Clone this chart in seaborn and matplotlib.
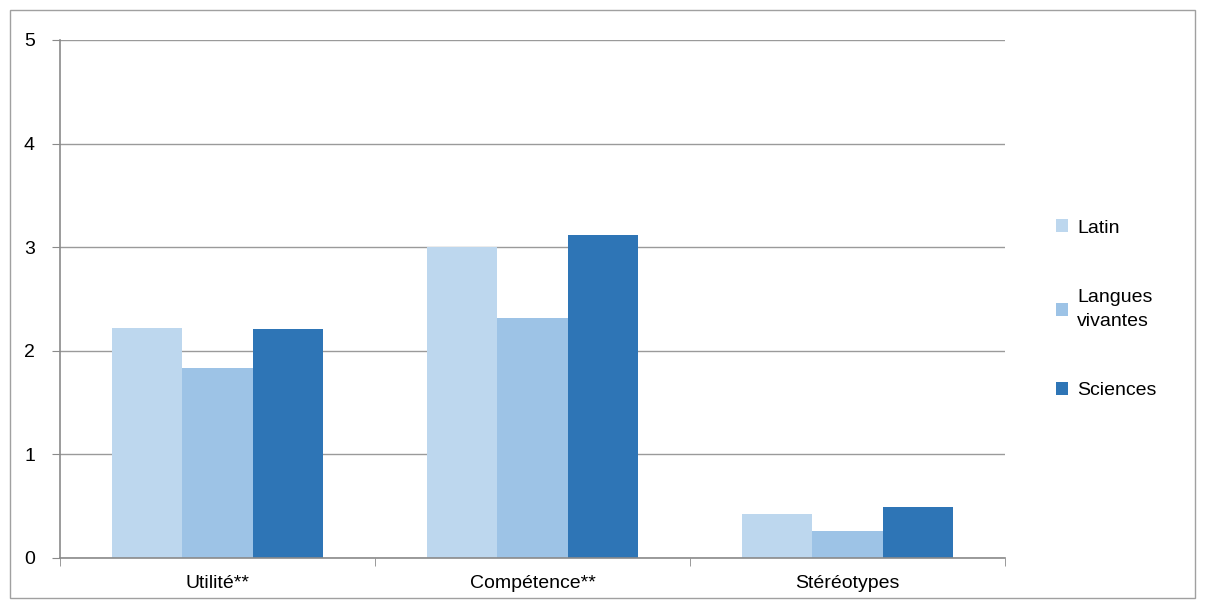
import numpy as np
import pandas as pd
import matplotlib
matplotlib.use("Agg")
import matplotlib.pyplot as plt
from matplotlib.patches import Rectangle
import seaborn as sns

categories = ["Utilité**", "Compétence**", "Stéréotypes"]
series = ["Latin", "Langues\nvivantes", "Sciences"]
latin = [2.22, 3.00, 0.42]
langues = [1.83, 2.32, 0.26]
sciences = [2.21, 3.12, 0.49]
colors = ["#BDD7EE", "#9DC3E6", "#2E75B6"]

df = pd.DataFrame({
    "cat": categories * 3,
    "serie": [series[0]] * 3 + [series[1]] * 3 + [series[2]] * 3,
    "val": latin + langues + sciences,
})

sns.set_style("white")
plt.rcParams["font.family"] = ["Liberation Sans", "DejaVu Sans"]
plt.rcParams["text.color"] = "black"
plt.rcParams["xtick.color"] = "black"
plt.rcParams["ytick.color"] = "black"

fig = plt.figure(figsize=(12.05, 6.08), dpi=100)
ax = fig.add_axes([60 / 1205, 1 - 558 / 608, 945 / 1205, 518 / 608])

sns.barplot(data=df, x="cat", y="val", hue="serie", order=categories,
            hue_order=series, palette=colors, width=0.667, saturation=1,
            edgecolor="none", linewidth=0, ax=ax)

ax.set_xlim(-0.5, 2.5)
ax.set_ylim(0, 5)
ax.set_yticks(range(6))
ax.yaxis.grid(True, color="#9a9a9a", linewidth=1)
ax.set_axisbelow(True)
ax.set_xlabel("")
ax.set_ylabel("")
for s in ["top", "right"]:
    ax.spines[s].set_visible(False)
for s in ["left", "bottom"]:
    ax.spines[s].set_color("#8a8a8a")
    ax.spines[s].set_linewidth(1.2)
ax.tick_params(axis="y", left=True, length=6, color="#8a8a8a", labelcolor="black",
               labelsize=14, pad=12)
ax.tick_params(axis="x", bottom=False, labelcolor="black", labelsize=14, pad=9)
ax.set_xticks([-0.5, 0.5, 1.5, 2.5], minor=True)
ax.tick_params(axis="x", which="minor", bottom=True, length=6, color="#8a8a8a")

handles, labels = ax.get_legend_handles_labels()
leg = ax.legend(handles, labels, loc="center left", bbox_to_anchor=(1.035, 0.48),
                frameon=False, fontsize=14, handlelength=0.65, handleheight=0.65,
                handletextpad=0.45, labelspacing=2.7)
for t in leg.get_texts():
    t.set_linespacing(1.5)
    t.set_color("black")

fig.patches.append(Rectangle((10 / 1205, 1 - 598 / 608), 1185 / 1205, 588 / 608,
                             transform=fig.transFigure, fill=False,
                             edgecolor="#a0a0a0", linewidth=1))

fig.savefig("out.png", dpi=100)
